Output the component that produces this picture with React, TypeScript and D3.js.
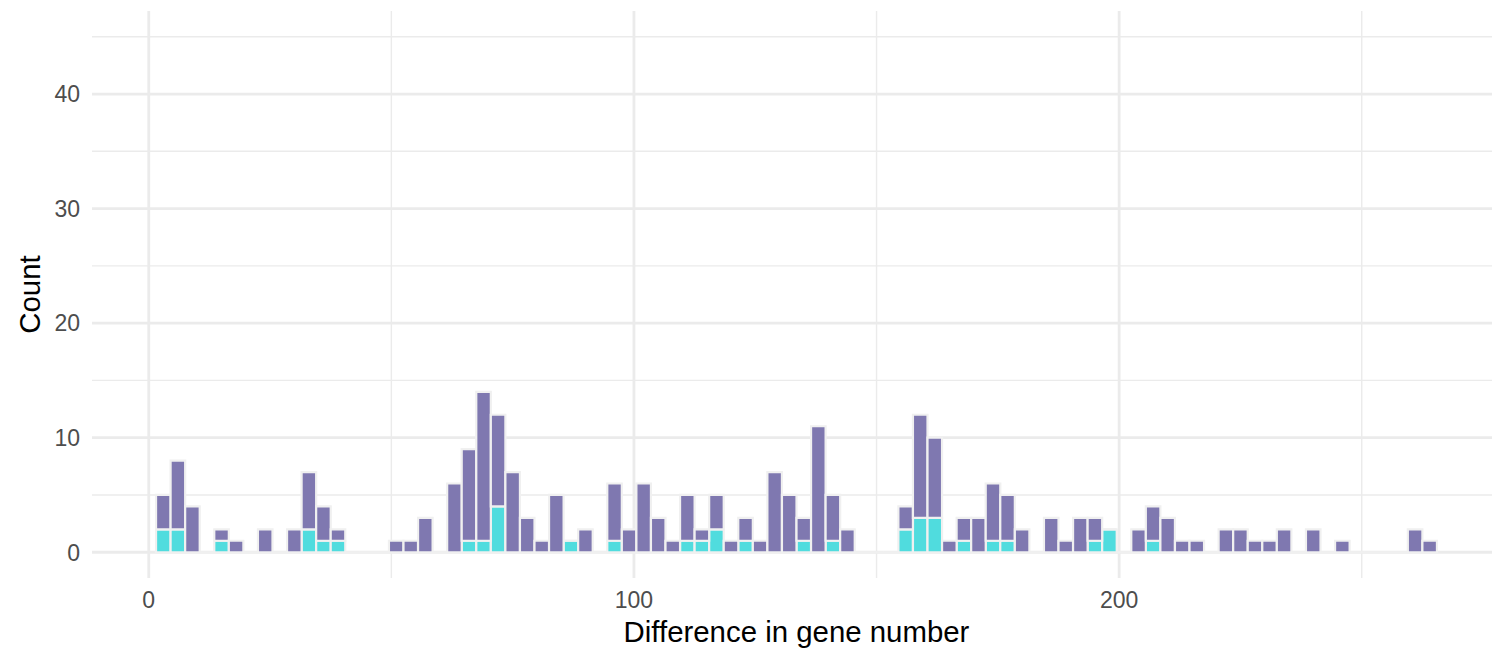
import React from 'react';
import * as d3 from 'd3';

// histogram bins: width 3, centre of each bin
const binMids = [
  3, 6, 9, 12, 15, 18, 21, 24, 27, 30, 33, 36, 39, 42, 45, 48, 51, 54, 57, 60,
  63, 66, 69, 72, 75, 78, 81, 84, 87, 90, 93, 96, 99, 102, 105, 108, 111, 114, 117, 120,
  123, 126, 129, 132, 135, 138, 141, 144, 147, 150, 153, 156, 159, 162, 165, 168, 171, 174, 177, 180,
  183, 186, 189, 192, 195, 198, 201, 204, 207, 210, 213, 216, 219, 222, 225, 228, 231, 234, 237, 240,
  243, 246, 249, 252, 255, 258, 261, 264,
];
const binWidth = 3;

// counts per bin, purple (upper part of the stack)
const purpleCounts = [
  3, 6, 4, 0, 1, 1, 0, 2, 0, 2, 5, 3, 1, 0, 0, 0, 1, 1, 3, 0,
  6, 8, 13, 8, 7, 3, 1, 5, 0, 2, 0, 5, 2, 6, 3, 1, 4, 1, 3, 1,
  2, 1, 7, 5, 2, 11, 4, 2, 0, 0, 0, 2, 9, 7, 1, 2, 3, 5, 4, 2,
  0, 3, 1, 3, 2, 0, 0, 2, 3, 3, 1, 1, 0, 2, 2, 1, 1, 2, 0, 2,
  0, 1, 0, 0, 0, 0, 2, 1,
];

// counts per bin, cyan (bottom of the stack)
const cyanCounts = [
  2, 2, 0, 0, 1, 0, 0, 0, 0, 0, 2, 1, 1, 0, 0, 0, 0, 0, 0, 0,
  0, 1, 1, 4, 0, 0, 0, 0, 1, 0, 0, 1, 0, 0, 0, 0, 1, 1, 2, 0,
  1, 0, 0, 0, 1, 0, 1, 0, 0, 0, 0, 2, 3, 3, 0, 1, 0, 1, 1, 0,
  0, 0, 0, 0, 1, 2, 0, 0, 1, 0, 0, 0, 0, 0, 0, 0, 0, 0, 0, 0,
  0, 0, 0, 0, 0, 0, 0, 0,
];

const xMajor = [0, 100, 200];
const xMinor = [50, 150, 250];
const yMajor = [0, 10, 20, 30, 40];
const yMinor = [5, 15, 25, 35, 45];

const W = 1492;
const H = 651;
const font = '"Liberation Sans", Arial, Helvetica, sans-serif';

export default function App() {
  const left = 92, right = 1501, top = 11, bottom = 578;

  const lo = binMids[0] - binWidth / 2;
  const hi = binMids[binMids.length - 1] + binWidth / 2;
  const padX = (hi - lo) * 0.05;
  const x = d3.scaleLinear().domain([lo - padX, hi + padX]).range([left, right]);
  const y = d3.scaleLinear().domain([-2.25, 47.25]).range([bottom, top]);

  const rectPath = (x0: number, x1: number, y0: number, y1: number) =>
    `M${x(x0)},${y(y0)}H${x(x1)}V${y(y1)}H${x(x0)}Z`;

  const grid = '#EBEBEB';

  return (
    <svg width={W} height={H} style={{ position: 'absolute', left: 0, top: 0, background: '#fff' }}>
      {/* grid */}
      {yMinor.map((v) => (
        <line key={'ym' + v} x1={left} x2={right} y1={y(v)} y2={y(v)} stroke={grid} strokeWidth={1.4} />
      ))}
      {xMinor.map((v) => (
        <line key={'xm' + v} x1={x(v)} x2={x(v)} y1={top} y2={bottom} stroke={grid} strokeWidth={1.4} />
      ))}
      {yMajor.map((v) => (
        <line key={'yM' + v} x1={left} x2={right} y1={y(v)} y2={y(v)} stroke={grid} strokeWidth={2.8} />
      ))}
      {xMajor.map((v) => (
        <line key={'xM' + v} x1={x(v)} x2={x(v)} y1={top} y2={bottom} stroke={grid} strokeWidth={2.8} />
      ))}

      {/* stacked bars */}
      <g stroke="#F0F0F0" strokeWidth={2.2}>
        {binMids.map((m, i) => (
          <path
            key={'c' + i}
            d={rectPath(m - binWidth / 2, m + binWidth / 2, 0, cyanCounts[i])}
            fill="#50DCDE"
          />
        ))}
        {binMids.map((m, i) => (
          <path
            key={'p' + i}
            d={rectPath(m - binWidth / 2, m + binWidth / 2, cyanCounts[i], cyanCounts[i] + purpleCounts[i])}
            fill="#7F78B0"
          />
        ))}
      </g>

      {/* tick labels */}
      <g fontFamily={font} fontSize={23} fill="#4D4D4D">
        {yMajor.map((v) => (
          <text key={'yl' + v} x={80} y={y(v)} dy="0.36em" textAnchor="end">{v}</text>
        ))}
        {xMajor.map((v) => (
          <text key={'xl' + v} x={x(v)} y={608} textAnchor="middle">{v}</text>
        ))}
      </g>

      {/* axis titles */}
      <text x={(left + right) / 2} y={642} textAnchor="middle" fontFamily={font} fontSize={29.4} fill="#000">
        Difference in gene number
      </text>
      <text
        transform={`translate(40,${(top + bottom) / 2}) rotate(-90)`}
        textAnchor="middle"
        fontFamily={font}
        fontSize={29.4}
        fill="#000"
      >
        Count
      </text>
    </svg>
  );
}
